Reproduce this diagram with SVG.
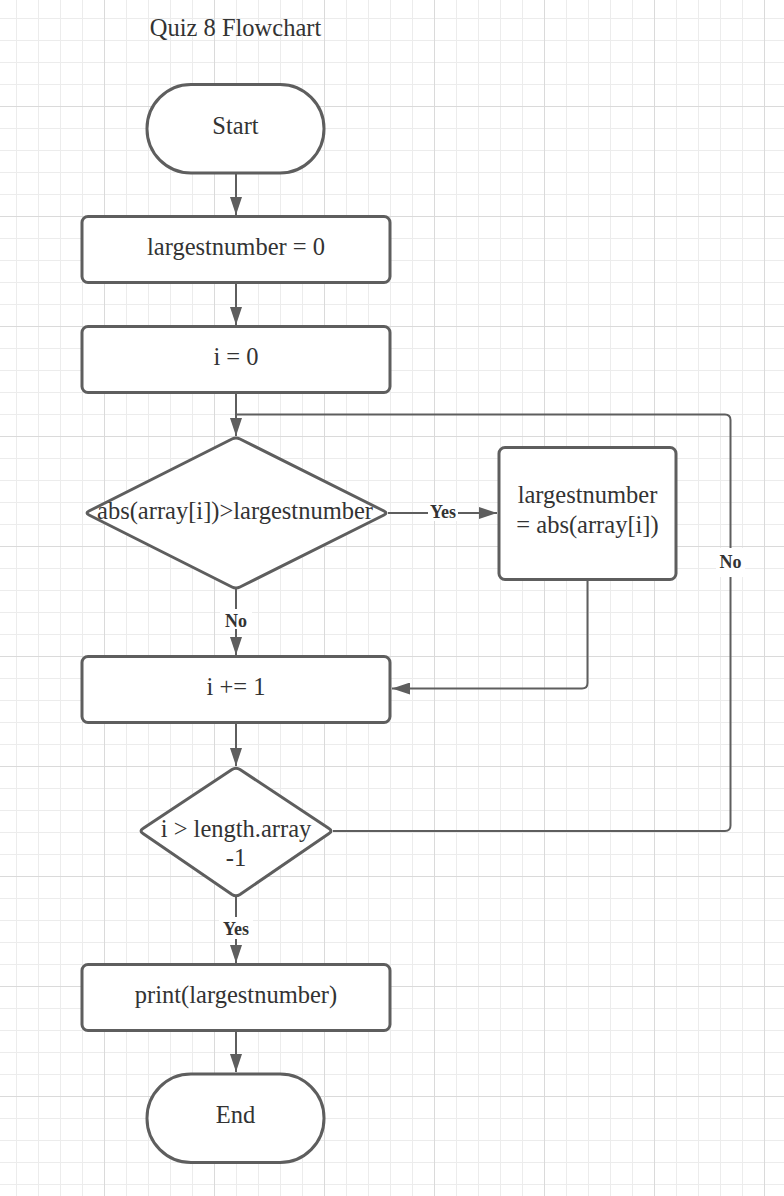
<svg xmlns="http://www.w3.org/2000/svg" width="784" height="1196" viewBox="0 0 784 1196">
  <style>
    .node { fill: #ffffff; stroke: #5e5e5e; stroke-width: 3; }
    .t { font-family: "Liberation Serif", "Times New Roman", serif; font-size: 24.5px; fill: #333333; text-anchor: middle; }
    .lbl { font-family: "Liberation Serif", "Times New Roman", serif; font-size: 18px; font-weight: bold; fill: #333333; text-anchor: middle; }
    .conn { fill: none; stroke: #5e5e5e; stroke-width: 2; }
    .arrow { marker-end: url(#ah); }
  </style>
  <defs>
    <pattern id="grid" patternUnits="userSpaceOnUse" x="104" y="106" width="110" height="110">
      <g stroke="#ececec" stroke-width="1" shape-rendering="crispEdges">
        <line x1="22.5" y1="0" x2="22.5" y2="110"/>
        <line x1="44.5" y1="0" x2="44.5" y2="110"/>
        <line x1="66.5" y1="0" x2="66.5" y2="110"/>
        <line x1="88.5" y1="0" x2="88.5" y2="110"/>
        <line x1="0" y1="22.5" x2="110" y2="22.5"/>
        <line x1="0" y1="44.5" x2="110" y2="44.5"/>
        <line x1="0" y1="66.5" x2="110" y2="66.5"/>
        <line x1="0" y1="88.5" x2="110" y2="88.5"/>
      </g>
      <g stroke="#dadada" stroke-width="1" shape-rendering="crispEdges">
        <line x1="0.5" y1="0" x2="0.5" y2="110"/>
        <line x1="0" y1="0.5" x2="110" y2="0.5"/>
      </g>
    </pattern>
    <marker id="ah" markerUnits="userSpaceOnUse" markerWidth="18" markerHeight="12" refX="18" refY="6" orient="auto">
      <path d="M0,0 L18,6 L0,12 Z" fill="#5e5e5e"/>
    </marker>
  </defs>

  <rect x="0" y="0" width="784" height="1196" fill="#ffffff"/>
  <rect x="0" y="0" width="784" height="1196" fill="url(#grid)"/>

  <text class="t" x="235.5" y="35.5">Quiz 8 Flowchart</text>

  <g id="connectors">
    <path class="conn arrow" d="M236,173 V215"/>
    <path class="conn arrow" d="M236,283 V325"/>
    <path class="conn arrow" d="M236,392 V436"/>
    <path class="conn" d="M333,831 H725 Q730.5,831 730.5,825.5 V420 Q730.5,414.5 725,414.5 H236"/>
    <path class="conn arrow" d="M388,513 H497"/>
    <path class="conn arrow" d="M587.5,580 V683 Q587.5,688.5 582,688.5 H392"/>
    <path class="conn arrow" d="M236,589 V655"/>
    <path class="conn arrow" d="M236,722 V766"/>
    <path class="conn arrow" d="M236,897 V963"/>
    <path class="conn arrow" d="M236,1030 V1072"/>
    <g id="labels">
      <rect x="428" y="503" width="30" height="18" fill="#ffffff"/>
      <text class="lbl" x="443" y="517.5">Yes</text>
      <rect x="220" y="609" width="32" height="20" fill="#ffffff"/>
      <text class="lbl" x="236" y="627">No</text>
      <rect x="716" y="548" width="29" height="29" fill="#ffffff"/>
      <text class="lbl" x="730.5" y="568">No</text>
      <rect x="219" y="917" width="34" height="22" fill="#ffffff"/>
      <text class="lbl" x="236" y="934.5">Yes</text>
    </g>
  </g>

  <g id="start">
    <rect class="node" x="147" y="84.5" width="177" height="88.5" rx="44" ry="44"/>
    <text class="t" x="235.5" y="133.5">Start</text>
  </g>
  <g id="init-largest">
    <rect class="node" x="82" y="216.5" width="308" height="66" rx="6" ry="6"/>
    <text class="t" x="236" y="255">largestnumber = 0</text>
  </g>
  <g id="init-i">
    <rect class="node" x="82" y="326.5" width="308" height="66" rx="6" ry="6"/>
    <text class="t" x="236" y="365">i = 0</text>
  </g>
  <g id="decision-abs">
    <path class="node" d="M232,439 Q236,437 240,439 L384,511 Q388,513 384,515 L240,587 Q236,589 232,587 L89,515 Q85,513 89,511 Z"/>
    <text class="t" x="235" y="518.5">abs(array[i])&gt;largestnumber</text>
  </g>
  <g id="assign-largest">
    <rect class="node" x="499" y="447.5" width="177" height="132" rx="6" ry="6"/>
    <text class="t" x="587.5" y="503">largestnumber</text>
    <text class="t" x="587.5" y="533">= abs(array[i])</text>
  </g>
  <g id="increment">
    <rect class="node" x="82" y="656.5" width="308" height="66" rx="6" ry="6"/>
    <text class="t" x="236" y="695">i += 1</text>
  </g>
  <g id="decision-length">
    <path class="node" d="M232,769.5 Q236,767 240,769.5 L329,828.5 Q333,831 329,833.5 L240,894.5 Q236,897 232,894.5 L143,833.5 Q139,831 143,828.5 Z"/>
    <text class="t" x="236" y="837">i &gt; length.array</text>
    <text class="t" x="236" y="866">-1</text>
  </g>
  <g id="print">
    <rect class="node" x="82" y="964.5" width="308" height="66" rx="6" ry="6"/>
    <text class="t" x="236" y="1003">print(largestnumber)</text>
  </g>
  <g id="end">
    <rect class="node" x="147" y="1074" width="177" height="88.5" rx="44" ry="44"/>
    <text class="t" x="235.5" y="1123">End</text>
  </g>
</svg>
